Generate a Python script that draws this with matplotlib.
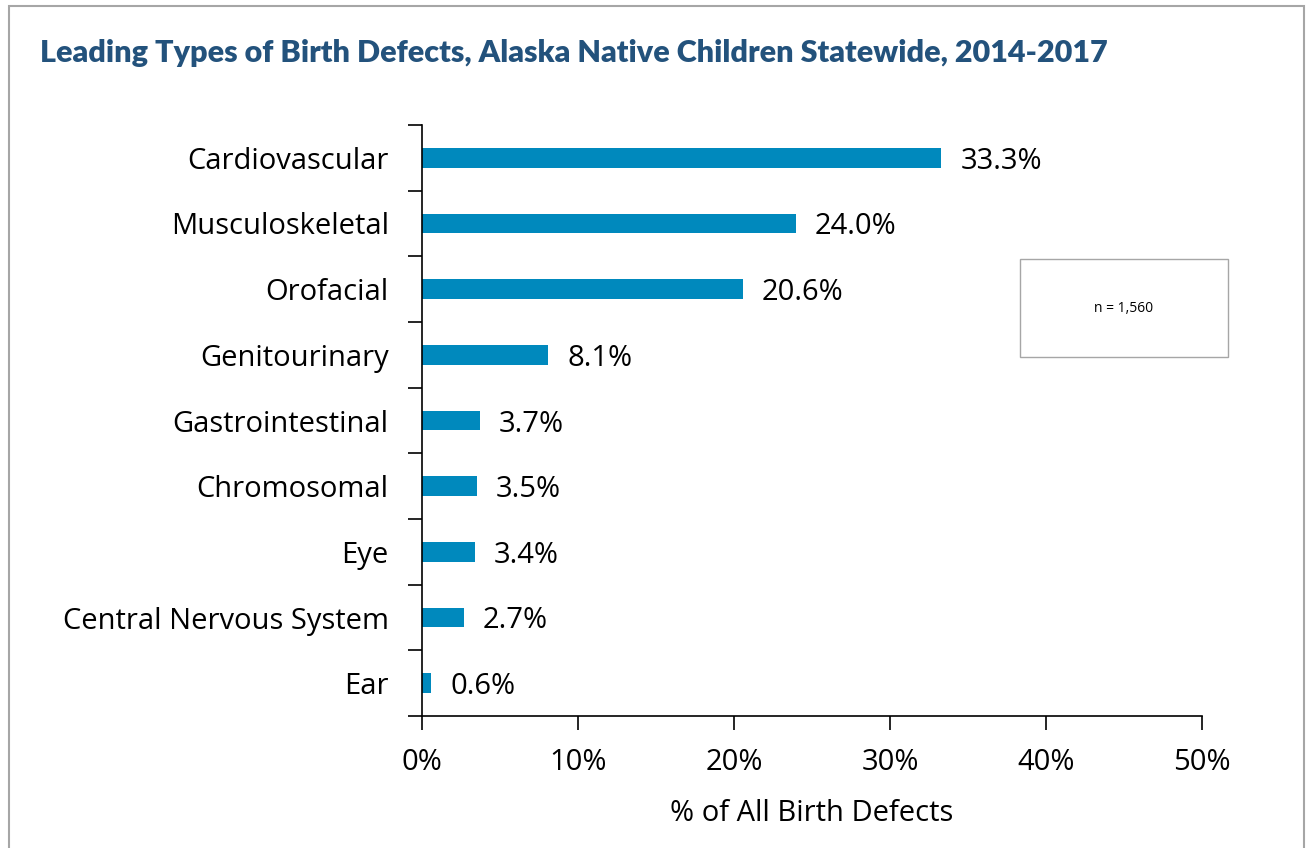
import matplotlib.pyplot as plt
from matplotlib.patches import Rectangle
from matplotlib.ticker import FixedLocator, PercentFormatter

categories = ["Cardiovascular", "Musculoskeletal", "Orofacial", "Genitourinary",
              "Gastrointestinal", "Chromosomal", "Eye", "Central Nervous System", "Ear"]
percents = [33.3, 24.0, 20.6, 8.1, 3.7, 3.5, 3.4, 2.7, 0.6]
x_ticks = [0, 10, 20, 30, 40, 50]

BAR_COLOR = "#0089BD"
TITLE_COLOR = "#23527C"
FONT = ["Open Sans", "DejaVu Sans"]
FS = 21

fig = plt.figure(figsize=(13.07, 8.48), dpi=100)
plt.rcParams["font.family"] = FONT

# outer frame like the report page box
fig.patches.append(Rectangle((9 / 1307, -0.05), (1304 - 9) / 1307, 1.05 - 6 / 848,
                             transform=fig.transFigure, fill=False,
                             edgecolor="#A6A6A6", linewidth=1.5))

fig.text(40 / 1307, 1 - 53 / 848, "Leading Types of Birth Defects, Alaska Native Children Statewide, 2014-2017",
         fontsize=22, fontweight="heavy", color=TITLE_COLOR, va="center", ha="left",
         family=["Lato", "DejaVu Sans"])

ax = fig.add_axes([422 / 1307, 1 - 716 / 848, (1202 - 422) / 1307, (716 - 125) / 848])
y = list(range(len(categories)))
ax.barh(y, percents, height=0.30, color=BAR_COLOR)
for yi, v in zip(y, percents):
    ax.text(v + 1.2, yi, f"{v:.1f}%", va="center_baseline", ha="left", fontsize=FS)

ax.set_xlim(0, 50)
ax.set_ylim(len(categories) - 0.5, -0.5)
ax.set_xticks(x_ticks)
ax.xaxis.set_major_formatter(PercentFormatter(decimals=0))
ax.set_yticks(y)
ax.set_yticklabels(categories)
ax.yaxis.set_minor_locator(FixedLocator([i - 0.5 for i in range(len(categories) + 1)]))
ax.tick_params(axis="y", which="major", length=0, pad=24, labelsize=FS)
ax.tick_params(axis="y", which="minor", length=10, width=1.2, direction="out")
ax.tick_params(axis="x", length=10, width=1.2, direction="out", pad=13, labelsize=FS)
ax.set_xlabel("% of All Birth Defects", fontsize=FS, labelpad=16)

for side in ("top", "right"):
    ax.spines[side].set_visible(False)
for side in ("left", "bottom"):
    ax.spines[side].set_linewidth(1.2)

# sample size note box
fig.patches.append(Rectangle((1020 / 1307, 1 - 357 / 848), 208 / 1307, 98 / 848,
                             transform=fig.transFigure, fill=False,
                             edgecolor="#A6A6A6", linewidth=1))
fig.text(1124 / 1307, 1 - 308 / 848, "n = 1,560", fontsize=10, ha="center", va="center")

fig.savefig("out.png", dpi=100)
